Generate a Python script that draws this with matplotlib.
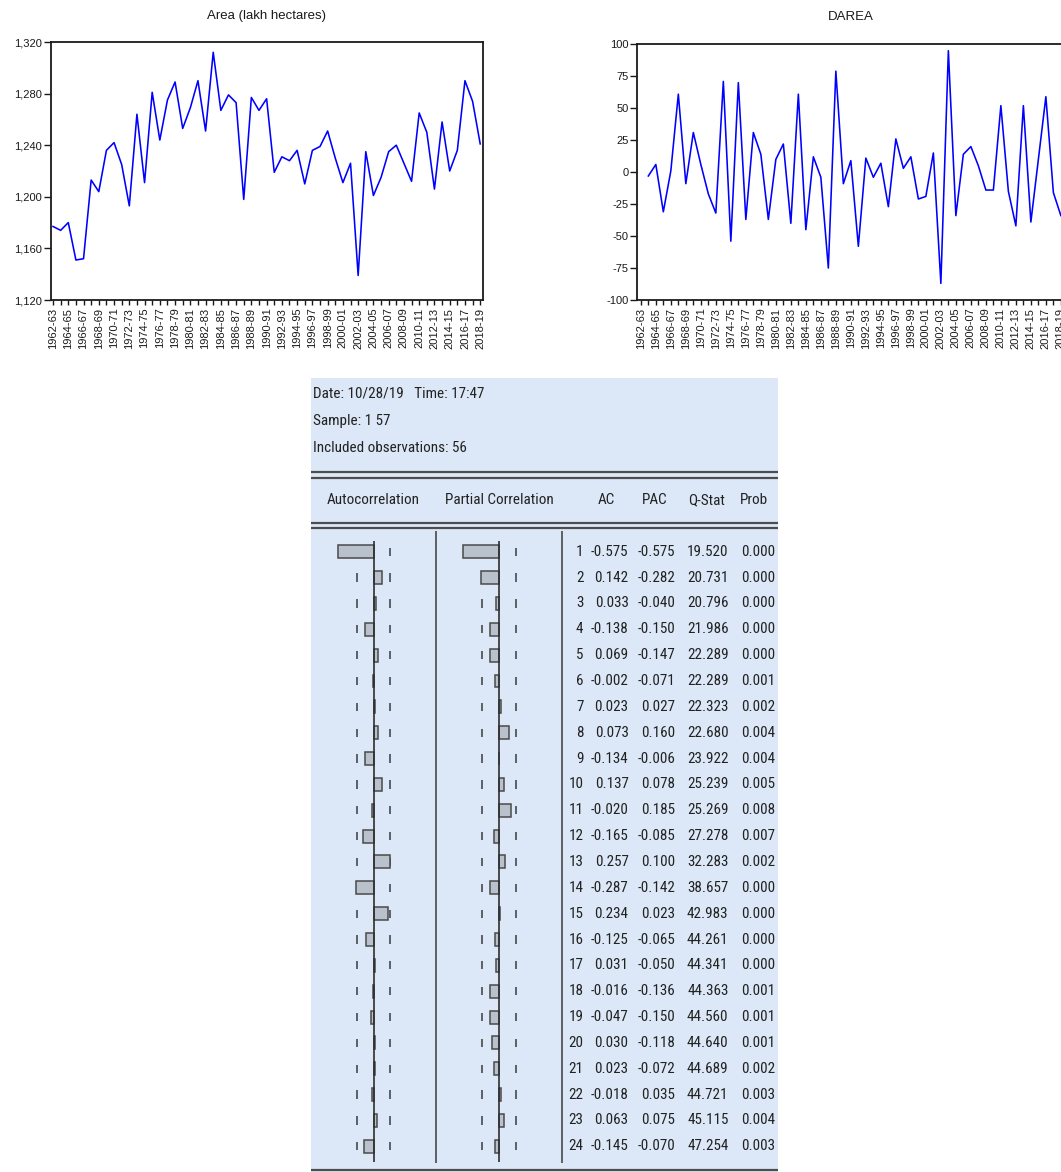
import numpy as np
import matplotlib
matplotlib.use("Agg")
import matplotlib.pyplot as plt
from matplotlib import font_manager
from matplotlib.patches import Rectangle
from matplotlib.ticker import FuncFormatter

# ---------------- data ----------------
periods = ["1962-63", "1963-64", "1964-65", "1965-66", "1966-67", "1967-68", "1968-69",
           "1969-70", "1970-71", "1971-72", "1972-73", "1973-74", "1974-75", "1975-76",
           "1976-77", "1977-78", "1978-79", "1979-80", "1980-81", "1981-82", "1982-83",
           "1983-84", "1984-85", "1985-86", "1986-87", "1987-88", "1988-89", "1989-90",
           "1990-91", "1991-92", "1992-93", "1993-94", "1994-95", "1995-96", "1996-97",
           "1997-98", "1998-99", "1999-00", "2000-01", "2001-02", "2002-03", "2003-04",
           "2004-05", "2005-06", "2006-07", "2007-08", "2008-09", "2009-10", "2010-11",
           "2011-12", "2012-13", "2013-14", "2014-15", "2015-16", "2016-17", "2017-18",
           "2018-19"]

area = [1177, 1174, 1180, 1151, 1152, 1213, 1204, 1236, 1242, 1225, 1193, 1264, 1211,
        1281, 1244, 1275, 1289, 1253, 1269, 1290, 1251, 1312, 1267, 1279, 1273, 1198,
        1277, 1267, 1276, 1219, 1231, 1228, 1236, 1210, 1236, 1239, 1251, 1230, 1211,
        1226, 1139, 1235, 1201, 1215, 1235, 1240, 1226, 1212, 1265, 1250, 1206, 1258,
        1220, 1236, 1290, 1274, 1241]

darea = [np.nan, -3, 6, -31, 1, 61, -9, 31, 6, -17, -32, 71, -54, 70, -37, 31, 14, -37,
         10, 22, -40, 61, -45, 12, -4, -75, 79, -9, 9, -58, 11, -4, 7, -27, 26, 3, 12,
         -21, -19, 15, -87, 95, -34, 14, 20, 5, -14, -14, 52, -15, -42, 52, -39, 10, 59,
         -16, -34]

area_yticks = [1120, 1160, 1200, 1240, 1280, 1320]
darea_yticks = [-100, -75, -50, -25, 0, 25, 50, 75, 100]

lags = [1, 2, 3, 4, 5, 6, 7, 8, 9, 10, 11, 12, 13, 14, 15, 16, 17, 18, 19, 20, 21, 22, 23, 24]
ac = [-0.575, 0.142, 0.033, -0.138, 0.069, -0.002, 0.023, 0.073, -0.134, 0.137, -0.020,
      -0.165, 0.257, -0.287, 0.234, -0.125, 0.031, -0.016, -0.047, 0.030, 0.023, -0.018,
      0.063, -0.145]
pac = [-0.575, -0.282, -0.040, -0.150, -0.147, -0.071, 0.027, 0.160, -0.006, 0.078, 0.185,
       -0.085, 0.100, -0.142, 0.023, -0.065, -0.050, -0.136, -0.150, -0.118, -0.072, 0.035,
       0.075, -0.070]
qstat = [19.520, 20.731, 20.796, 21.986, 22.289, 22.289, 22.323, 22.680, 23.922, 25.239,
         25.269, 27.278, 32.283, 38.657, 42.983, 44.261, 44.341, 44.363, 44.560, 44.640,
         44.689, 44.721, 45.115, 47.254]
prob = [0.000, 0.000, 0.000, 0.000, 0.000, 0.001, 0.002, 0.004, 0.004, 0.005, 0.008, 0.007,
        0.002, 0.000, 0.000, 0.000, 0.000, 0.001, 0.001, 0.001, 0.002, 0.003, 0.004, 0.003]

n_obs = 56
header_lines = ["Date: 10/28/19   Time: 17:47", "Sample: 1 57", "Included observations: 56"]
col_titles = ["Autocorrelation", "Partial Correlation", "AC", "PAC", "Q-Stat", "Prob"]

# ---------------- fonts ----------------
plt.rcParams['font.family'] = ['Liberation Sans', 'DejaVu Sans']
plt.rcParams['axes.unicode_minus'] = False


def pick_table_font():
    entries = font_manager.fontManager.ttflist
    names = {e.name for e in entries}
    if 'Liberation Sans Narrow' in names:
        return 'Liberation Sans Narrow', 'normal', 11.6
    for fam, size in [('Roboto Condensed', 10.9), ('Open Sans Condensed', 10.4)]:
        if fam in names:
            return fam, 'normal', size
    for fam, size in [('DejaVu Sans', 9.4), ('Roboto', 10.9), ('Open Sans', 10.4)]:
        if any(e.name == fam and str(e.stretch) in ('condensed', 'semi-condensed')
               for e in entries):
            return fam, 'condensed', size
    return 'Liberation Sans', 'normal', 9.4


tfam, tstretch, tfs = pick_table_font()
tkw = dict(family=[tfam, 'DejaVu Sans'], fontstretch=tstretch, fontsize=tfs, color='#222222')

# ---------------- figure ----------------
W, H = 1061, 1172
fig = plt.figure(figsize=(W / 100, H / 100), dpi=100)
fig.patch.set_facecolor('white')


def rect(l, t, r, b):
    return [l / W, 1 - b / H, (r - l) / W, (b - t) / H]


bg = fig.add_axes([0, 0, 1, 1], zorder=0)
bg.set_xlim(0, W)
bg.set_ylim(H, 0)
bg.axis('off')

x_idx = np.arange(len(periods))
xlabels = [p if i % 2 == 0 else '' for i, p in enumerate(periods)]


def line_panel(pos, values, ylim, yticks, fmt, xlim, title, title_y):
    ax = fig.add_axes(rect(*pos), zorder=2)
    ax.plot(x_idx, values, color='#0000ff', lw=1.15)
    ax.set_xlim(*xlim)
    ax.set_ylim(*ylim)
    ax.set_xticks(x_idx)
    ax.set_xticklabels(xlabels, rotation=90, fontsize=8)
    ax.set_yticks(yticks)
    ax.yaxis.set_major_formatter(FuncFormatter(fmt))
    ax.tick_params(axis='y', direction='out', length=5, width=1.0, colors='#1a1a1a',
                   labelsize=8, pad=1)
    ax.tick_params(axis='x', direction='out', length=3.5, width=1.0, colors='#1a1a1a',
                   labelsize=8, pad=2)
    for s in ax.spines.values():
        s.set_linewidth(1.3)
        s.set_color('#1a1a1a')
    cx = (pos[0] + pos[2]) / 2
    fig.text(cx / W, 1 - title_y / H, title, ha='center', va='center', fontsize=9.5,
             color='#1a1a1a')
    return ax


line_panel((50.5, 42, 482.5, 300), area, (1120, 1320), area_yticks,
           lambda v, p: f"{v:,.0f}", (-0.33, 56.3), "Area (lakh hectares)", 16.5)
line_panel((636.7, 44.3, 1065, 300), darea, (-100, 100), darea_yticks,
           lambda v, p: f"{v:.0f}", (-0.55, 56.55), "DAREA", 17.5)

# ---------------- correlogram table ----------------
pl, pr, pt = 311, 778, 378
bg.add_patch(Rectangle((pl, pt), pr - pl, H - pt + 5, fc='#dce8f7', ec='none', zorder=0))
for yy in [472, 477.5, 523, 528, 1169.5]:
    bg.hlines(yy, pl, pr, color='#4d4d4d', lw=1.6, zorder=1)
bg.vlines([436, 562], 531, 1163, color='#3a3a3a', lw=1.1, zorder=1)

for txt, yy in zip(header_lines, [393, 421.5, 448]):
    bg.text(313, yy, txt, ha='left', va='center', **tkw)
for txt, xx in zip(col_titles, [373, 499, 606, 655, 706.5, 753.5]):
    bg.text(xx, 500, txt, ha='center', va='center', **tkw)

ylim_rows = (24.84, 0.08)
bound = 2 / np.sqrt(n_obs)
lag_arr = np.array(lags)

for vals, (l, r) in [(ac, (311, 436)), (pac, (436, 562))]:
    bax = fig.add_axes(rect(l, 528, r, 1168), zorder=3)
    bax.patch.set_alpha(0)
    bax.set_xlim(-1, 1)
    bax.set_ylim(*ylim_rows)
    bax.axis('off')
    bax.vlines(np.r_[np.full(len(lags), -bound), np.full(len(lags), bound)],
               np.r_[lag_arr, lag_arr] - 0.16, np.r_[lag_arr, lag_arr] + 0.16,
               color='#3a3a3a', lw=1.1, zorder=2)
    bax.barh(lags, vals, height=0.5, left=0, color='#b9c1cd', edgecolor='#4a4a4a',
             linewidth=1.1, zorder=3)
    bax.vlines(0, 0.6, 24.6, color='#2e2e2e', lw=1.2, zorder=4)

tx = fig.add_axes(rect(562, 528, 778, 1168), zorder=3)
tx.patch.set_alpha(0)
tx.set_xlim(562, 778)
tx.set_ylim(*ylim_rows)
tx.axis('off')
for lag, a, p, q, pr_ in zip(lags, ac, pac, qstat, prob):
    tx.text(583.5, lag, f"{lag}", ha='right', va='center', **tkw)
    tx.text(628.5, lag, f"{a:.3f}", ha='right', va='center', **tkw)
    tx.text(675, lag, f"{p:.3f}", ha='right', va='center', **tkw)
    tx.text(728.5, lag, f"{q:.3f}", ha='right', va='center', **tkw)
    tx.text(775.5, lag, f"{pr_:.3f}", ha='right', va='center', **tkw)

fig.savefig("out.png", dpi=100, facecolor='white')
